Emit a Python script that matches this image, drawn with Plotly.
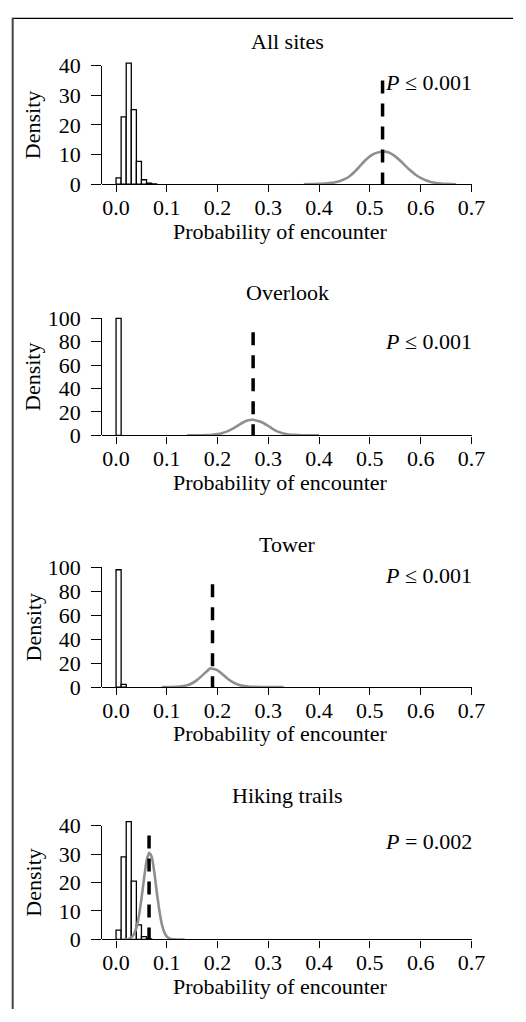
import plotly.graph_objects as go

W, H = 526, 1022

# ---------------- data ----------------
panel_titles = ["All sites", "Overlook", "Tower", "Hiking trails"]
p_labels = ["<i>P</i> ≤ 0.001", "<i>P</i> ≤ 0.001", "<i>P</i> ≤ 0.001", "<i>P</i> = 0.002"]
p_label_y = [34.3, 80.0, 93.6, 34.3]
observed = [0.525, 0.27, 0.19, 0.065]
observed_top = [35.0, 88.0, 86.0, 36.5]
y_tick_max = [40, 100, 100, 40]
y_tick_step = [10, 20, 20, 10]
x_ticks = [0.0, 0.1, 0.2, 0.3, 0.4, 0.5, 0.6, 0.7]
x_tick_labels = ["0.0", "0.1", "0.2", "0.3", "0.4", "0.5", "0.6", "0.7"]

bin_width = 0.01
hist_left_1 = [0.00, 0.01, 0.02, 0.03, 0.04, 0.05, 0.06, 0.07]
hist_dens_1 = [2.1, 22.7, 40.9, 25.2, 7.7, 1.5, 0.35, 0.1]
hist_left_2 = [0.00]
hist_dens_2 = [100.0]
hist_left_3 = [0.00, 0.01]
hist_dens_3 = [98.0, 2.2]
hist_left_4 = [0.00, 0.01, 0.02, 0.03, 0.04, 0.05, 0.06]
hist_dens_4 = [3.3, 29.0, 41.4, 20.5, 5.1, 1.0, 0.2]

curve_x_1 = [0.37, 0.38, 0.39, 0.40, 0.41, 0.42, 0.43, 0.44, 0.45, 0.46, 0.47, 0.48,
             0.49, 0.50, 0.51, 0.52, 0.53, 0.54, 0.55, 0.56, 0.57, 0.58, 0.59, 0.60,
             0.61, 0.62, 0.63, 0.64, 0.65, 0.66, 0.67]
curve_y_1 = [0.0, 0.02, 0.05, 0.1, 0.2, 0.35, 0.6, 1.0, 1.7, 2.7, 4.2, 6.0,
             7.9, 9.4, 10.4, 10.9, 11.0, 10.5, 9.4, 7.9, 6.2, 4.6, 3.2, 2.1,
             1.3, 0.75, 0.4, 0.2, 0.1, 0.04, 0.0]

curve_x_2 = [0.14, 0.15, 0.16, 0.17, 0.18, 0.19, 0.20, 0.21, 0.22, 0.23, 0.24, 0.25,
             0.26, 0.27, 0.28, 0.29, 0.30, 0.31, 0.32, 0.33, 0.34, 0.35, 0.36, 0.37,
             0.38, 0.39, 0.40]
curve_y_2 = [0.0, 0.02, 0.05, 0.1, 0.25, 0.55, 1.1, 2.1, 3.6, 5.8, 8.4, 11.0,
             12.9, 13.3, 12.2, 10.6, 8.0, 5.2, 3.0, 1.6, 0.8, 0.4, 0.2, 0.08,
             0.03, 0.01, 0.0]

curve_x_3 = [0.09, 0.10, 0.11, 0.12, 0.13, 0.14, 0.15, 0.16, 0.17, 0.18, 0.185, 0.19,
             0.20, 0.21, 0.22, 0.23, 0.24, 0.25, 0.26, 0.27, 0.28, 0.29, 0.30, 0.31,
             0.32, 0.33]
curve_y_3 = [0.0, 0.02, 0.06, 0.2, 0.6, 1.5, 3.2, 6.0, 9.8, 13.6, 15.6, 15.3,
             14.0, 10.6, 7.0, 4.1, 2.1, 1.0, 0.45, 0.2, 0.08, 0.03, 0.01, 0.0,
             0.0, 0.0]

curve_x_4 = [0.015, 0.020, 0.025, 0.030, 0.035, 0.040, 0.045, 0.050, 0.055, 0.060,
             0.065, 0.070, 0.075, 0.080, 0.085, 0.090, 0.095, 0.100, 0.105, 0.110,
             0.115, 0.120, 0.135]
curve_y_4 = [0.0, 0.06, 0.2, 0.66, 1.8, 4.1, 8.2, 14.3, 21.2, 27.4,
             30.4, 29.1, 24.1, 17.0, 10.5, 5.5, 2.5, 1.0, 0.34, 0.1,
             0.03, 0.0, 0.0]

hist_left = [hist_left_1, hist_left_2, hist_left_3, hist_left_4]
hist_dens = [hist_dens_1, hist_dens_2, hist_dens_3, hist_dens_4]
curve_x = [curve_x_1, curve_x_2, curve_x_3, curve_x_4]
curve_y = [curve_y_1, curve_y_2, curve_y_3, curve_y_4]

# ---------------- layout geometry (pixels) ----------------
zero_px = [176.5, 434.0, 692.0, 950.7]      # pixel row of y = 0
px_per_unit = [3.035, 1.20, 1.227, 2.918]
data_top = [44, 104, 104, 44]
title_px = [30.5, 288.0, 545.5, 803.5]
x_left_px, x_right_px = 105.0, 484.0
x0_px, x_scale = 119.0, 520.5              # pixel of x=0 and px per unit
x_range = [(x_left_px - x0_px) / x_scale, (x_right_px - x0_px) / x_scale]

FONT = "Liberation Serif"
FS = 22
CURVE_COLOR = "#8f8f8f"

def py(px):
    return 1 - px / H

fig = go.Figure()
layout = dict(
    width=W, height=H, margin=dict(l=0, r=0, t=0, b=0),
    paper_bgcolor="white", plot_bgcolor="rgba(0,0,0,0)",
    showlegend=False, font=dict(family=FONT, size=FS, color="black"),
)
annotations = []
shapes = []

for k in range(4):
    xa = "x" if k == 0 else f"x{k+1}"
    ya_data_n = 2 * k + 1
    ya_disp_n = 2 * k + 2
    ya_data = "y" if ya_data_n == 1 else f"y{ya_data_n}"
    ya_disp = f"y{ya_disp_n}"
    Z, s = zero_px[k], px_per_unit[k]
    T = y_tick_max[k]

    fig.add_trace(go.Bar(
        x=hist_left[k], y=hist_dens[k], width=bin_width, offset=0,
        marker=dict(color="white", line=dict(color="black", width=1.3)),
        xaxis=xa, yaxis=ya_data, hoverinfo="skip"))
    fig.add_trace(go.Scatter(
        x=curve_x[k], y=curve_y[k], mode="lines",
        line=dict(color=CURVE_COLOR, width=2.6, shape="spline", smoothing=0.6),
        xaxis=xa, yaxis=ya_data, hoverinfo="skip"))
    fig.add_trace(go.Scatter(
        x=[observed[k], observed[k]], y=[observed_top[k], 0], mode="lines",
        line=dict(color="black", width=3.5, dash="13px,10px"),
        xaxis=xa, yaxis=ya_data, hoverinfo="skip"))
    fig.add_trace(go.Scatter(x=[None], y=[None], xaxis=xa, yaxis=ya_disp,
                             hoverinfo="skip"))

    xkey = "xaxis" if k == 0 else f"xaxis{k+1}"
    layout[xkey] = dict(
        domain=[x_left_px / W, x_right_px / W], range=x_range, anchor=ya_data,
        showline=True, linecolor="black", linewidth=1.3,
        ticks="outside", ticklen=7, tickwidth=1.3, tickcolor="black",
        ticklabelstandoff=-4,
        tickvals=x_ticks, ticktext=x_tick_labels, showgrid=False, zeroline=False,
        tickfont=dict(family=FONT, size=FS, color="black"),
    )
    dkey = "yaxis" if ya_data_n == 1 else f"yaxis{ya_data_n}"
    layout[dkey] = dict(
        domain=[py(Z), py(Z - s * data_top[k])], range=[0, data_top[k]],
        anchor=xa, visible=False, showgrid=False, zeroline=False)
    layout[f"yaxis{ya_disp_n}"] = dict(
        domain=[py(Z), py(Z - s * T)], range=[0, T], anchor=xa,
        showline=True, linecolor="black", linewidth=1.3,
        ticks="outside", ticklen=10, tickwidth=1.3, tickcolor="black",
        ticklabelstandoff=6,
        tickvals=list(range(0, T + 1, y_tick_step[k])),
        showgrid=False, zeroline=False,
        tickfont=dict(family=FONT, size=FS, color="black"),
    )

    annotations.append(dict(
        text=panel_titles[k], xref="paper", yref="paper",
        x=294.5 / W, y=py(title_px[k]), xanchor="center", yanchor="middle",
        showarrow=False, font=dict(family=FONT, size=FS, color="black")))
    annotations.append(dict(
        text=p_labels[k], xref=xa, yref=ya_data, x=0.70, xshift=3,
        y=p_label_y[k], xanchor="right", yanchor="middle", showarrow=False,
        font=dict(family=FONT, size=FS, color="black")))
    annotations.append(dict(
        text="Density", xref="paper", yref="paper", textangle=-90,
        x=34 / W, y=py(Z - s * T / 2), xanchor="center", yanchor="middle",
        showarrow=False, font=dict(family=FONT, size=FS, color="black")))
    annotations.append(dict(
        text="Probability of encounter", xref="paper", yref="paper",
        x=288 / W, y=py(Z + 48), xanchor="center", yanchor="middle",
        showarrow=False, font=dict(family=FONT, size=FS, color="black")))

# frame lines of the figure panel
shapes.append(dict(type="line", xref="paper", yref="paper",
                   x0=13 / W, x1=1, y0=py(6.5), y1=py(6.5),
                   line=dict(color="black", width=1.2)))
shapes.append(dict(type="line", xref="paper", yref="paper",
                   x0=13 / W, x1=13 / W, y0=py(6), y1=0,
                   line=dict(color="#444444", width=2)))

layout["annotations"] = annotations
layout["shapes"] = shapes
fig.update_layout(**layout)

post = (
    "document.documentElement.style.margin='0';"
    "document.documentElement.style.overflow='hidden';"
    "document.body.style.margin='0';"
    "document.body.style.overflow='hidden';"
    "var gd=document.getElementById('{plot_id}');"
    "gd.style.position='fixed';gd.style.top='0px';gd.style.left='0px';"
)
fig.write_html("out.html", post_script=post,
               config={"displayModeBar": False})
